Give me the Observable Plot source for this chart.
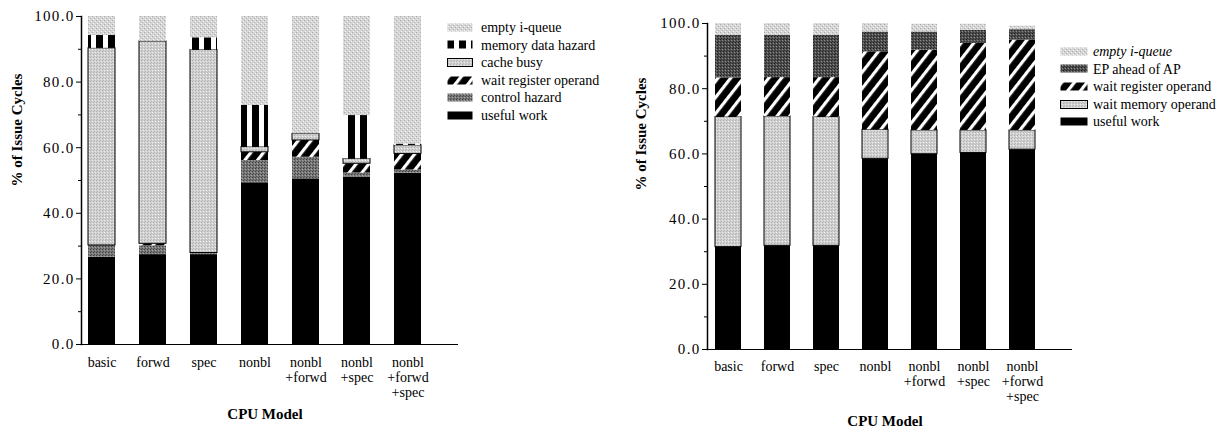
<!DOCTYPE html>
<html><head><meta charset="utf-8">
<script src="https://cdn.jsdelivr.net/npm/d3@7"></script>
<script src="https://cdn.jsdelivr.net/npm/@observablehq/plot@0.6"></script>
<style>
body{margin:0;background:#fff;}
#wrap{position:relative;width:1224px;height:432px;font-family:"Liberation Serif","Times New Roman",serif;color:#000;overflow:hidden;}
.chart{position:absolute;top:0;}
.legend{position:absolute;font-size:14px;line-height:17.6px;}
.legend .row{display:flex;align-items:center;white-space:nowrap;height:17.6px;}
.legend svg{display:block;}
g[aria-label="y-axis tick label"] text{letter-spacing:1.3px;font-size:15px;}
</style></head><body>
<div id="wrap">
<svg width="0" height="0" style="position:absolute">
<defs>
 <pattern id="pEmpty" width="4" height="4" patternUnits="userSpaceOnUse">
  <rect width="4" height="4" fill="#d6d6d6"/>
  <rect x="0" y="0" width="1" height="1" fill="#aaaaaa"/>
  <rect x="2" y="2" width="1" height="1" fill="#b2b2b2"/>
  <rect x="1" y="3" width="1" height="1" fill="#f2f2f2"/>
  <rect x="3" y="1" width="1" height="1" fill="#eeeeee"/>
 </pattern>
 <pattern id="pLight" width="3" height="3" patternUnits="userSpaceOnUse">
  <rect width="3" height="3" fill="#d0d0d0"/>
  <rect x="0" y="0" width="1" height="1" fill="#b0b0b0"/>
  <rect x="2" y="1" width="1" height="1" fill="#ececec"/>
  <rect x="1" y="2" width="1" height="1" fill="#b8b8b8"/>
 </pattern>
 <pattern id="pControl" width="3" height="3" patternUnits="userSpaceOnUse">
  <rect width="3" height="3" fill="#777"/>
  <rect x="0" y="0" width="1" height="1" fill="#404040"/>
  <rect x="2" y="1" width="1" height="1" fill="#a4a4a4"/>
  <rect x="1" y="2" width="1" height="1" fill="#505050"/>
 </pattern>
 <pattern id="pEP" width="3" height="3" patternUnits="userSpaceOnUse">
  <rect width="3" height="3" fill="#505050"/>
  <rect x="0" y="0" width="1" height="1" fill="#1e1e1e"/>
  <rect x="2" y="1" width="1" height="1" fill="#888"/>
  <rect x="1" y="2" width="1" height="1" fill="#2e2e2e"/>
 </pattern>
 <pattern id="pHatch" width="10" height="10" patternUnits="userSpaceOnUse" patternTransform="rotate(38)">
  <rect width="10" height="10" fill="#000"/>
  <rect x="0" y="0" width="3.2" height="10" fill="#fff"/>
 </pattern>
 <pattern id="pVert" width="12" height="10" patternUnits="userSpaceOnUse">
  <rect width="12" height="10" fill="#000"/>
  <rect x="7" y="0" width="5" height="10" fill="#fff"/>
 </pattern>
</defs>
</svg>
</div>
<script>
// ---------- data ----------
const models = ["basic", "forwd", "spec", "nonbl", "nonbl+forwd", "nonbl+spec", "nonbl+forwd+spec"];

// left chart (bottom to top)
const leftSeries = ["useful work", "control hazard", "wait register operand", "cache busy", "memory data hazard", "empty i-queue"];
const leftUsefulWork     = [26.6, 27.4, 27.4, 49.3, 50.5, 51.0, 52.2];
const leftControlHazard  = [3.6, 2.7, 0.5, 6.8, 6.6, 1.3, 1.0];
const leftWaitRegister   = [0.0, 0.6, 0.0, 2.5, 5.1, 2.8, 4.9];
const leftCacheBusy      = [60.1, 61.7, 61.9, 1.6, 2.0, 1.5, 2.6];
const leftMemoryHazard   = [3.9, 0.0, 3.7, 12.7, 0.0, 13.2, 0.4];
const leftEmptyQueue     = [5.8, 7.6, 6.5, 27.1, 35.8, 30.2, 38.9];

// right chart (bottom to top)
const rightSeries = ["useful work", "wait memory operand", "wait register operand", "EP ahead of AP", "empty i-queue"];
const rightUsefulWork    = [31.4, 31.8, 31.8, 58.5, 59.9, 60.3, 61.3];
const rightWaitMemory    = [39.9, 39.7, 39.5, 8.9, 7.3, 6.9, 5.9];
const rightWaitRegister  = [12.0, 11.9, 12.1, 23.9, 24.6, 26.7, 27.7];
const rightEPAhead       = [13.1, 13.0, 13.0, 6.1, 5.6, 4.0, 3.2];
const rightEmptyQueue    = [3.6, 3.6, 3.6, 2.6, 2.4, 1.9, 1.1];

const yTicks = [0, 20, 40, 60, 80, 100];
const yMinor = [10, 30, 50, 70, 90];

// ---------- styling ----------
const leftFill = {
  "useful work": "#000", "control hazard": "url(#pControl)", "wait register operand": "url(#pHatch)",
  "cache busy": "url(#pLight)", "memory data hazard": "url(#pVert)", "empty i-queue": "url(#pEmpty)"
};
const rightFill = {
  "useful work": "#000", "wait memory operand": "url(#pLight)", "wait register operand": "url(#pHatch)",
  "EP ahead of AP": "url(#pEP)", "empty i-queue": "url(#pEmpty)"
};
const outlined = new Set(["cache busy", "wait memory operand"]);

function tidy(series, arrays) {
  const rows = [];
  models.forEach((m, i) => series.forEach((s, j) => rows.push({model: m, series: s, value: arrays[j][i]})));
  return rows;
}
const leftData = tidy(leftSeries, [leftUsefulWork, leftControlHazard, leftWaitRegister, leftCacheBusy, leftMemoryHazard, leftEmptyQueue]);
const rightData = tidy(rightSeries, [rightUsefulWork, rightWaitMemory, rightWaitRegister, rightEPAhead, rightEmptyQueue]);

function makeChart(data, fills, g) {
  return Plot.plot({
    width: 612, height: 432,
    marginLeft: g.ml, marginRight: g.mr, marginTop: g.mt, marginBottom: g.mb,
    style: {fontFamily: "'Liberation Serif', 'Times New Roman', serif", fontSize: "14px", color: "#000", background: "transparent", overflow: "visible"},
    x: {domain: models, range: g.xr, paddingInner: g.pi, paddingOuter: 0},
    y: {domain: [0, 100]},
    color: {type: "identity"},
    marks: [
      Plot.barY(data, {x: "model", y: "value", z: "series", fill: d => fills[d.series],
        stroke: d => outlined.has(d.series) ? "#000" : "none", strokeWidth: 1}),
      Plot.ruleY([0], {strokeWidth: 1.2}),
      Plot.frame({anchor: "left", strokeWidth: 1.5}),
      Plot.axisY({ticks: yTicks, tickFormat: d => d.toFixed(1), tickSize: 5, tickPadding: 2, label: null}),
      Plot.axisY({ticks: yMinor, tickSize: 3, fill: "none", label: null}),
      Plot.axisX({tickSize: 0, tickPadding: g.tp, lineHeight: 1.08, tickFormat: d => d.replace(/\+/g, "\n+"), label: null}),
      Plot.text(["% of Issue Cycles"], {frameAnchor: "left", dx: g.ydx, dy: g.ydy, rotate: -90, fontWeight: "bold", fontSize: 15}),
      Plot.text(["CPU Model"], {frameAnchor: "bottom", dx: -5, dy: g.xdy, fontWeight: "bold", fontSize: 15})
    ]
  });
}

const wrap = document.getElementById("wrap");
const left = makeChart(leftData, leftFill, {ml: 81, mr: 154, mt: 16, mb: 88, xr: [88, 422], pi: 0.47, tp: 12, ydx: -64, ydy: 6, xdy: 74});
left.classList.add("chart"); left.style.left = "0px";
wrap.appendChild(left);
const right = makeChart(rightData, rightFill, {ml: 95, mr: 152, mt: 23, mb: 83, xr: [101, 424], pi: 0.475, tp: 11, ydx: -66, ydy: 4, xdy: 76});
right.classList.add("chart"); right.style.left = "612px";
wrap.appendChild(right);

// ---------- legends ----------
function legend(series, fills, x, y, swW, gap, italicFirst) {
  const div = document.createElement("div");
  div.className = "legend";
  div.style.left = x + "px"; div.style.top = y + "px";
  series.slice().reverse().forEach((s, i) => {
    const row = document.createElement("div");
    row.className = "row";
    const sw = document.createElementNS("http://www.w3.org/2000/svg", "svg");
    sw.setAttribute("width", swW + 1); sw.setAttribute("height", 10);
    sw.style.marginRight = gap + "px";
    const r = document.createElementNS("http://www.w3.org/2000/svg", "rect");
    r.setAttribute("x", 0.5); r.setAttribute("y", 0.5); r.setAttribute("width", swW); r.setAttribute("height", 8);
    r.setAttribute("fill", fills[s]);
    if (outlined.has(s)) { r.setAttribute("stroke", "#000"); r.setAttribute("stroke-width", 1); }
    sw.appendChild(r);
    row.appendChild(sw);
    const t = document.createElement("span");
    t.textContent = s;
    if (italicFirst && i === 0) t.style.fontStyle = "italic";
    row.appendChild(t);
    div.appendChild(row);
  });
  wrap.appendChild(div);
}
legend(leftSeries, leftFill, 447, 19, 25, 8, false);
legend(rightSeries, rightFill, 1060, 43, 27, 5, true);
</script>
</body></html>
